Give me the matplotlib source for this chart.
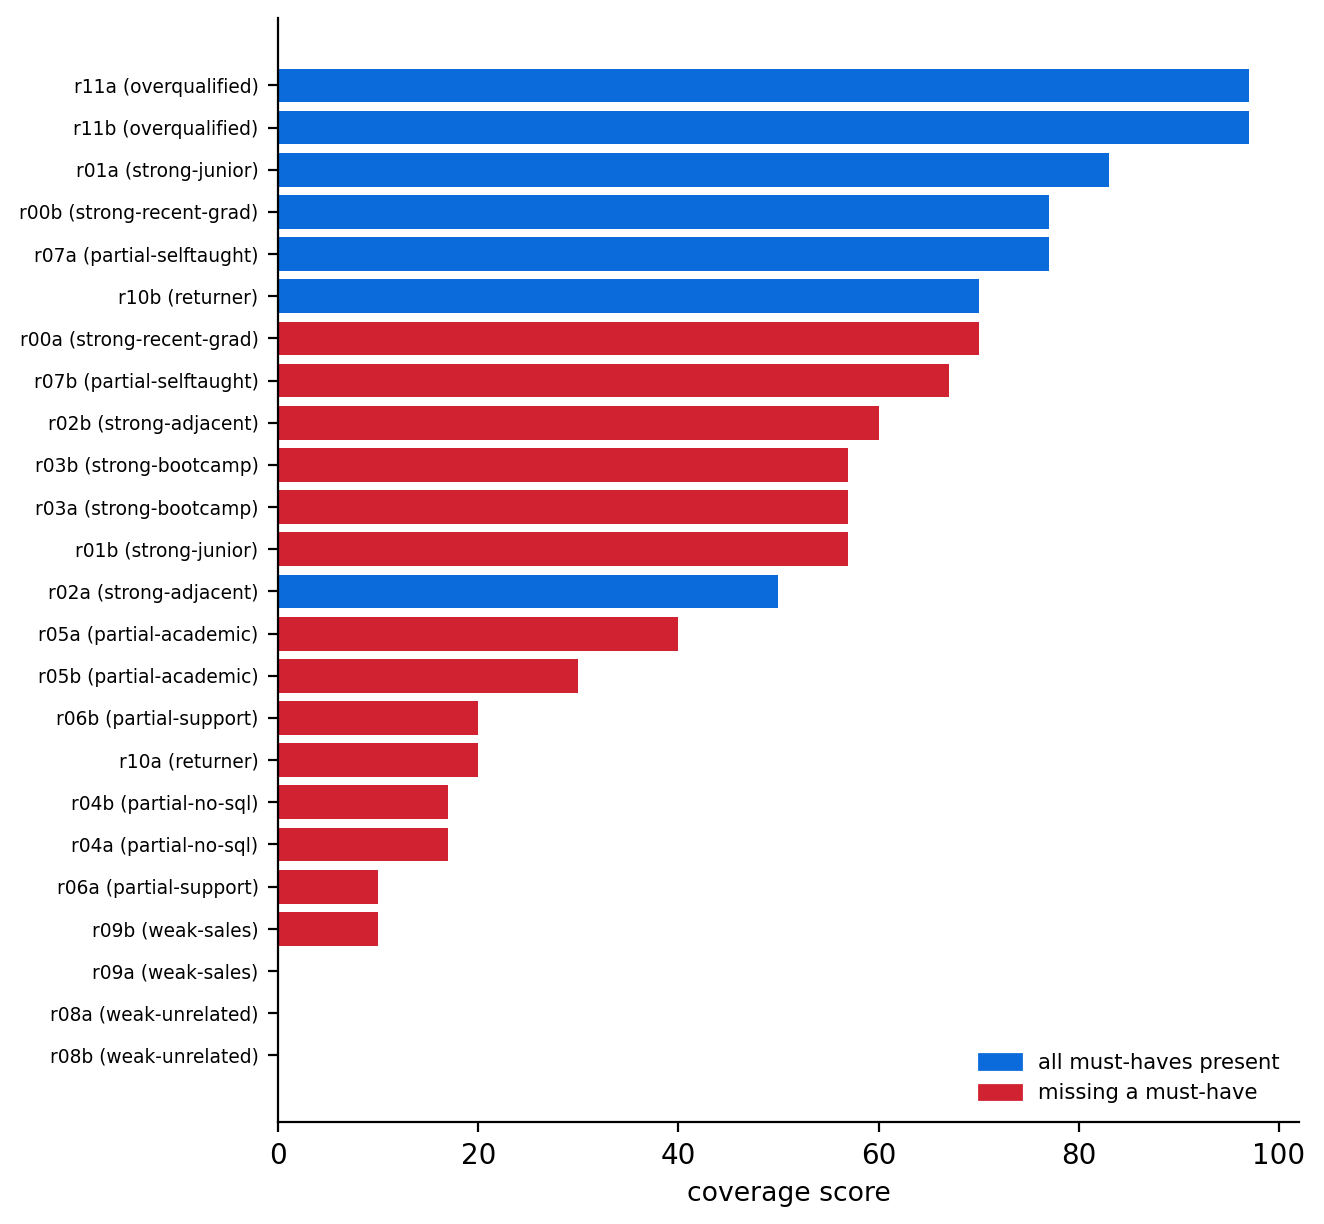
import matplotlib
matplotlib.use("Agg")
import matplotlib.pyplot as plt
from matplotlib.patches import Patch

labels = [
    "r11a (overqualified)", "r11b (overqualified)", "r01a (strong-junior)",
    "r00b (strong-recent-grad)", "r07a (partial-selftaught)", "r10b (returner)",
    "r00a (strong-recent-grad)", "r07b (partial-selftaught)", "r02b (strong-adjacent)",
    "r03b (strong-bootcamp)", "r03a (strong-bootcamp)", "r01b (strong-junior)",
    "r02a (strong-adjacent)", "r05a (partial-academic)", "r05b (partial-academic)",
    "r06b (partial-support)", "r10a (returner)", "r04b (partial-no-sql)",
    "r04a (partial-no-sql)", "r06a (partial-support)", "r09b (weak-sales)",
    "r09a (weak-sales)", "r08a (weak-unrelated)", "r08b (weak-unrelated)",
]
scores = [97, 97, 83, 77, 77, 70, 70, 67, 60, 57, 57, 57, 50, 40, 30, 20, 20, 17, 17, 10, 10, 0, 0, 0]
all_present = [True, True, True, True, True, True, False, False, False, False, False, False,
               True, False, False, False, False, False, False, False, False, False, False, False]

BLUE = "#0b6bdb"
RED = "#d02230"
colors = [BLUE if ok else RED for ok in all_present]

fig, ax = plt.subplots(figsize=(6.62, 6.12), dpi=200)
ypos = list(range(len(labels)))
ax.barh(ypos, scores, color=colors, height=0.8)
ax.set_yticks(ypos)
ax.set_yticklabels(labels, fontsize=6.7)
ax.invert_yaxis()
ax.set_xlim(0, 102)
ax.set_xlabel("coverage score", fontsize=9.6)
ax.tick_params(axis="x", labelsize=10)
ax.spines["top"].set_visible(False)
ax.spines["right"].set_visible(False)

handles = [Patch(color=BLUE, label="all must-haves present"),
           Patch(color=RED, label="missing a must-have")]
ax.legend(handles=handles, loc="lower right", frameon=False, fontsize=7.6)

fig.subplots_adjust(left=0.21, right=0.981, top=0.985, bottom=0.083)
fig.savefig("out.png", dpi=200)
